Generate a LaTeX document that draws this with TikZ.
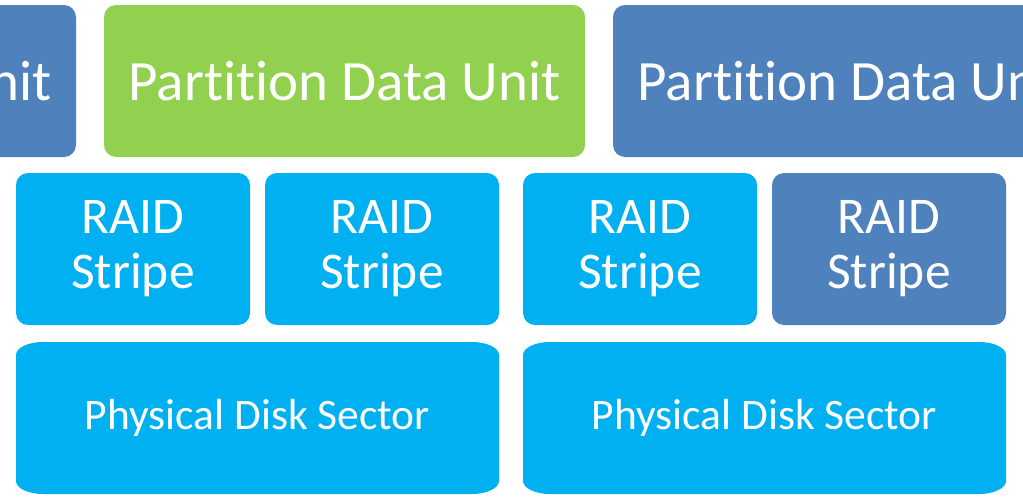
\documentclass[tikz,border=0pt]{standalone}
\usepackage{fontspec}
\setmainfont[Ligatures=NoCommon]{Carlito}
\usetikzlibrary{positioning,backgrounds}

\definecolor{unitblue}{HTML}{4F81BD}
\definecolor{unitgreen}{HTML}{92D050}
\definecolor{stripecyan}{HTML}{00B0F0}

\tikzset{
  unitbox/.style={rectangle, rounded corners=12pt, fill=#1, text=white, outer sep=0pt,
    minimum width=481pt, minimum height=152pt, font=\fontsize{57}{66}\selectfont},
  stripebox/.style={rectangle, rounded corners=12pt, fill=#1, text=white, outer sep=0pt, align=center,
    minimum width=234pt, minimum height=152pt, font=\fontsize{51.5}{55}\selectfont},
  sectorbox/.style={rectangle, text=white, outer sep=0pt,
    minimum width=483pt, minimum height=152pt, font=\fontsize{43.5}{50}\selectfont}
}

\begin{document}
\begin{tikzpicture}[x=1pt, y=1pt, node distance=28pt]
   \path[use as bounding box, clip] (0,0) rectangle (1023,-498);

   % partition data units
   \node[unitbox=unitgreen] (pdu2) at (344.5,-81) {Partition Data Unit};
   \node[unitbox=unitblue]  (pdu1) [left=of pdu2]  {Partition Data Unit};
   \node[unitbox=unitblue]  (pdu3) [right=of pdu2] {Partition Data Unit};

   % raid stripes
   \node[stripebox=stripecyan] (rs1) at (133,-249) {RAID\\Stripe};
   \node[stripebox=stripecyan] (rs2) [right=15pt of rs1] {RAID\\Stripe};
   \node[stripebox=stripecyan] (rs3) [right=24pt of rs2] {RAID\\Stripe};
   \node[stripebox=unitblue]   (rs4) [right=15pt of rs3] {RAID\\Stripe};

   % physical disk sectors
   \node[sectorbox] (pds1) at (257.5,-418) {Physical Disk Sector};
   \node[sectorbox] (pds2) [right=24pt of pds1] {Physical Disk Sector};

   \begin{scope}[on background layer]
   \foreach \n in {pds1,pds2}
     \fill[stripecyan] ([xshift=27pt]\n.north west) -- ([xshift=-27pt]\n.north east)
        arc[start angle=90, end angle=0, x radius=27pt, y radius=13pt]
        -- ([yshift=13pt]\n.south east)
        arc[start angle=0, end angle=-90, x radius=27pt, y radius=13pt]
        -- ([xshift=27pt]\n.south west)
        arc[start angle=270, end angle=180, x radius=27pt, y radius=13pt]
        -- ([yshift=-13pt]\n.north west)
        arc[start angle=180, end angle=90, x radius=27pt, y radius=13pt] -- cycle;
   \end{scope}
\end{tikzpicture}
\end{document}
